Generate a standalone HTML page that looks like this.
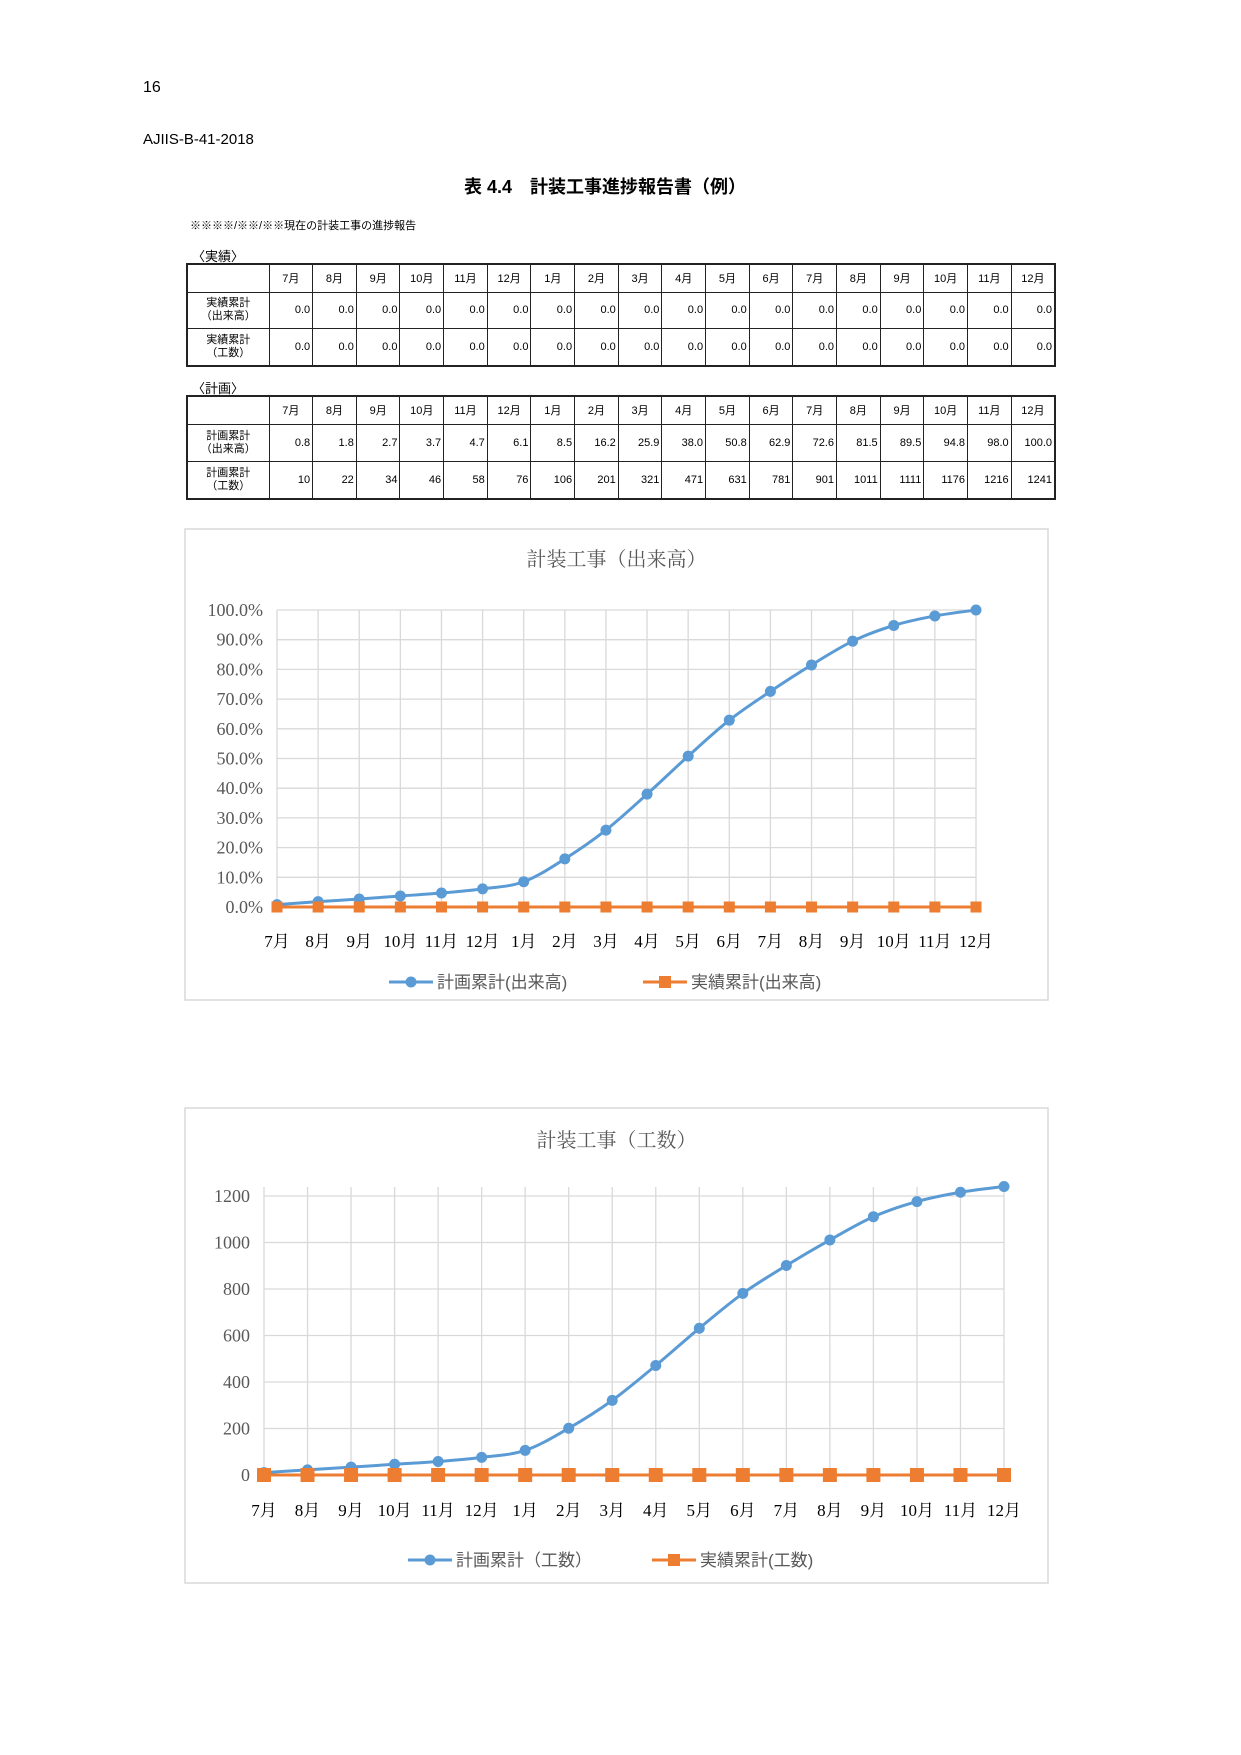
<!DOCTYPE html>
<html><head><meta charset="utf-8">
<style>
body{margin:0;background:#fff;}
#page{position:relative;width:1241px;height:1755px;overflow:hidden;background:#fff;font-family:"Liberation Sans","Noto Sans CJK JP",sans-serif;color:#000;}
.t{position:absolute;white-space:nowrap;}
table{position:absolute;border-collapse:collapse;table-layout:fixed;font-size:11px;}
td{border:1px solid #222;padding:0 2px;text-align:right;}
td.h{text-align:center;line-height:13px;}
tr.hd td{text-align:center;}
table{border:2px solid #222;}
svg{position:absolute;left:0;top:0;}
</style></head><body>
<div id="page">
<div class="t" style="left:143px;top:79px;font-size:16px;">16</div>
<div class="t" style="left:143px;top:131px;font-size:15px;">AJIIS-B-41-2018</div>
<div class="t" style="left:464px;top:173px;font-size:18px;font-weight:bold;">表 4.4　計装工事進捗報告書（例）</div>
<div class="t" style="left:190px;top:217px;font-size:11px;">※※※※/※※/※※現在の計装工事の進捗報告</div>
<div class="t" style="left:192px;top:246px;font-size:13px;">〈実績〉</div>
<table id="tab1" style="left:186px;top:263px;width:870px;height:104px;"></table>
<div class="t" style="left:192px;top:378px;font-size:13px;">〈計画〉</div>
<table id="tab2" style="left:186px;top:395px;width:870px;height:105px;"></table>
<svg id="svg" width="1241" height="1755"></svg>
</div>
<script>
const months=["7月","8月","9月","10月","11月","12月","1月","2月","3月","4月","5月","6月","7月","8月","9月","10月","11月","12月"];
const actualPct=[0,0,0,0,0,0,0,0,0,0,0,0,0,0,0,0,0,0];
const actualHours=[0,0,0,0,0,0,0,0,0,0,0,0,0,0,0,0,0,0];
const planPct=[0.8,1.8,2.7,3.7,4.7,6.1,8.5,16.2,25.9,38.0,50.8,62.9,72.6,81.5,89.5,94.8,98.0,100.0];
const planHours=[10,22,34,46,58,76,106,201,321,471,631,781,901,1011,1111,1176,1216,1241];
const pctTicks=[0,10,20,30,40,50,60,70,80,90,100];
const hourTicks=[0,200,400,600,800,1000,1200];

function buildTable(id,rows){
  const t=document.getElementById(id);
  let h='<colgroup><col style="width:82px">'+months.map(()=>'<col>').join('')+'</colgroup>';
  h+='<tr class="hd" style="height:28px"><td></td>'+months.map(m=>'<td>'+m+'</td>').join('')+'</tr>';
  rows.forEach(r=>{h+='<tr><td class="h">'+r[0]+'</td>'+r[1].map(v=>'<td>'+v+'</td>').join('')+'</tr>';});
  t.innerHTML=h;
}
buildTable('tab1',[['実績累計<br>（出来高）',actualPct.map(v=>v.toFixed(1))],['実績累計<br>（工数）',actualHours.map(v=>v.toFixed(1))]]);
buildTable('tab2',[['計画累計<br>（出来高）',planPct.map(v=>v.toFixed(1))],['計画累計<br>（工数）',planHours.map(v=>String(v))]]);

const NS="http://www.w3.org/2000/svg";
const svg=document.getElementById('svg');
function mk(tag,attrs,parent){const e=document.createElementNS(NS,tag);for(const k in attrs)e.setAttribute(k,attrs[k]);(parent||svg).appendChild(e);return e;}
function smooth(pts){
  let d='M'+pts[0][0]+','+pts[0][1];
  for(let i=0;i<pts.length-1;i++){
    const p0=pts[i-1]||pts[i],p1=pts[i],p2=pts[i+1],p3=pts[i+2]||p2;
    const c1=[p1[0]+(p2[0]-p0[0])/6,p1[1]+(p2[1]-p0[1])/6];
    const c2=[p2[0]-(p3[0]-p1[0])/6,p2[1]-(p3[1]-p1[1])/6];
    d+=' C'+c1[0]+','+c1[1]+' '+c2[0]+','+c2[1]+' '+p2[0]+','+p2[1];
  }
  return d;
}
function chart(o){
  const g=mk('g',{});
  
  
  const box=mk('rect',{x:o.bx,y:o.by,width:o.bw,height:o.bh,fill:'#fff',stroke:'#d9d9d9','stroke-width':1.5},g);
  
  
  const ti=mk('text',{x:o.bx+o.bw/2,y:o.titleY,'text-anchor':'middle','font-size':20,fill:'#595959','font-family':'"Liberation Serif","Noto Serif CJK SC",serif'},g);
  ti.textContent=o.title;
  
  
  const n=months.length;
  const X=i=>o.x0+(o.x1-o.x0)*i/(n-1);
  const Y=v=>o.y0-(o.y0-o.y1)*(v-o.ymin)/(o.ymax-o.ymin);
  for(let i=0;i<n;i++){
    const l=mk('line',{x1:X(i),x2:X(i),y1:o.gridTop,y2:o.y0,stroke:'#d9d9d9','stroke-width':1.3},g);
    
    
  }
  o.ticks.forEach(v=>{
    const l=mk('line',{x1:o.x0,x2:o.x1,y1:Y(v),y2:Y(v),stroke:'#d9d9d9','stroke-width':1.3},g);
    
    
    const t=mk('text',{x:o.x0-14,y:Y(v)+6,'text-anchor':'end','font-size':18,fill:'#595959','font-family':'"Liberation Serif",serif'},g);
    t.textContent=o.fmt(v);
    
    
  });
  months.forEach((m,i)=>{
    const t=mk('text',{x:X(i),y:o.xlabY,'text-anchor':'middle','font-size':17,fill:'#000','font-family':'"Liberation Serif","Noto Serif CJK SC",serif'},g);
    t.textContent=m;
    
    
  });
  const pts=o.plan.map((v,i)=>[X(i),Y(v)]);
  const pl=mk('path',{d:smooth(pts),fill:'none',stroke:'#5b9bd5','stroke-width':3},g);
  
  
  pts.forEach(p=>{
    const c=mk('circle',{cx:p[0],cy:p[1],r:5.5,fill:'#5b9bd5'},g);
    
    
  });
  const apts=o.actual.map((v,i)=>[X(i),Y(v)]);
  const al=mk('path',{d:'M'+apts.map(p=>p.join(',')).join(' L'),fill:'none',stroke:'#ed7d31','stroke-width':3},g);
  
  
  apts.forEach(p=>{
    const r=mk('rect',{x:p[0]-o.sq/2,y:p[1]-o.sq/2,width:o.sq,height:o.sq,fill:'#ed7d31'},g);
    
    
  });
  const lg=mk('g',{},g);
  
  
  mk('line',{x1:o.lx1,x2:o.lx1+44,y1:o.ly,y2:o.ly,stroke:'#5b9bd5','stroke-width':3},lg);
  mk('circle',{cx:o.lx1+22,cy:o.ly,r:5.5,fill:'#5b9bd5'},lg);
  const t1=mk('text',{x:o.lx1+48,y:o.ly+6,'font-size':17,fill:'#595959','font-family':'"Liberation Sans","Noto Sans CJK JP",sans-serif'},lg);
  t1.textContent=o.leg1;
  
  
  mk('line',{x1:o.lx2,x2:o.lx2+44,y1:o.ly,y2:o.ly,stroke:'#ed7d31','stroke-width':3},lg);
  mk('rect',{x:o.lx2+16,y:o.ly-6,width:12,height:12,fill:'#ed7d31'},lg);
  const t2=mk('text',{x:o.lx2+48,y:o.ly+6,'font-size':17,fill:'#595959','font-family':'"Liberation Sans","Noto Sans CJK JP",sans-serif'},lg);
  t2.textContent=o.leg2;
  
  
}
chart({name:'progress-pct-chart',bx:185,by:529,bw:863,bh:471,title:'計装工事（出来高）',titleY:566,
  x0:277,x1:976,y0:907,y1:610,ymin:0,ymax:100,gridTop:610,ticks:pctTicks,fmt:v=>v.toFixed(1)+'%',
  plan:planPct,actual:actualPct,xlabY:947,sq:11,lx1:389,lx2:643,ly:982,leg1:'計画累計(出来高)',leg2:'実績累計(出来高)'});
chart({name:'man-hours-chart',bx:185,by:1108,bw:863,bh:475,title:'計装工事（工数）',titleY:1147,
  x0:264,x1:1004,y0:1475,y1:1196,ymin:0,ymax:1200,gridTop:1187,ticks:hourTicks,fmt:v=>String(v),
  plan:planHours,actual:actualHours,xlabY:1516,sq:14,lx1:408,lx2:652,ly:1560,leg1:'計画累計（工数）',leg2:'実績累計(工数)'});
</script>
</body></html>
